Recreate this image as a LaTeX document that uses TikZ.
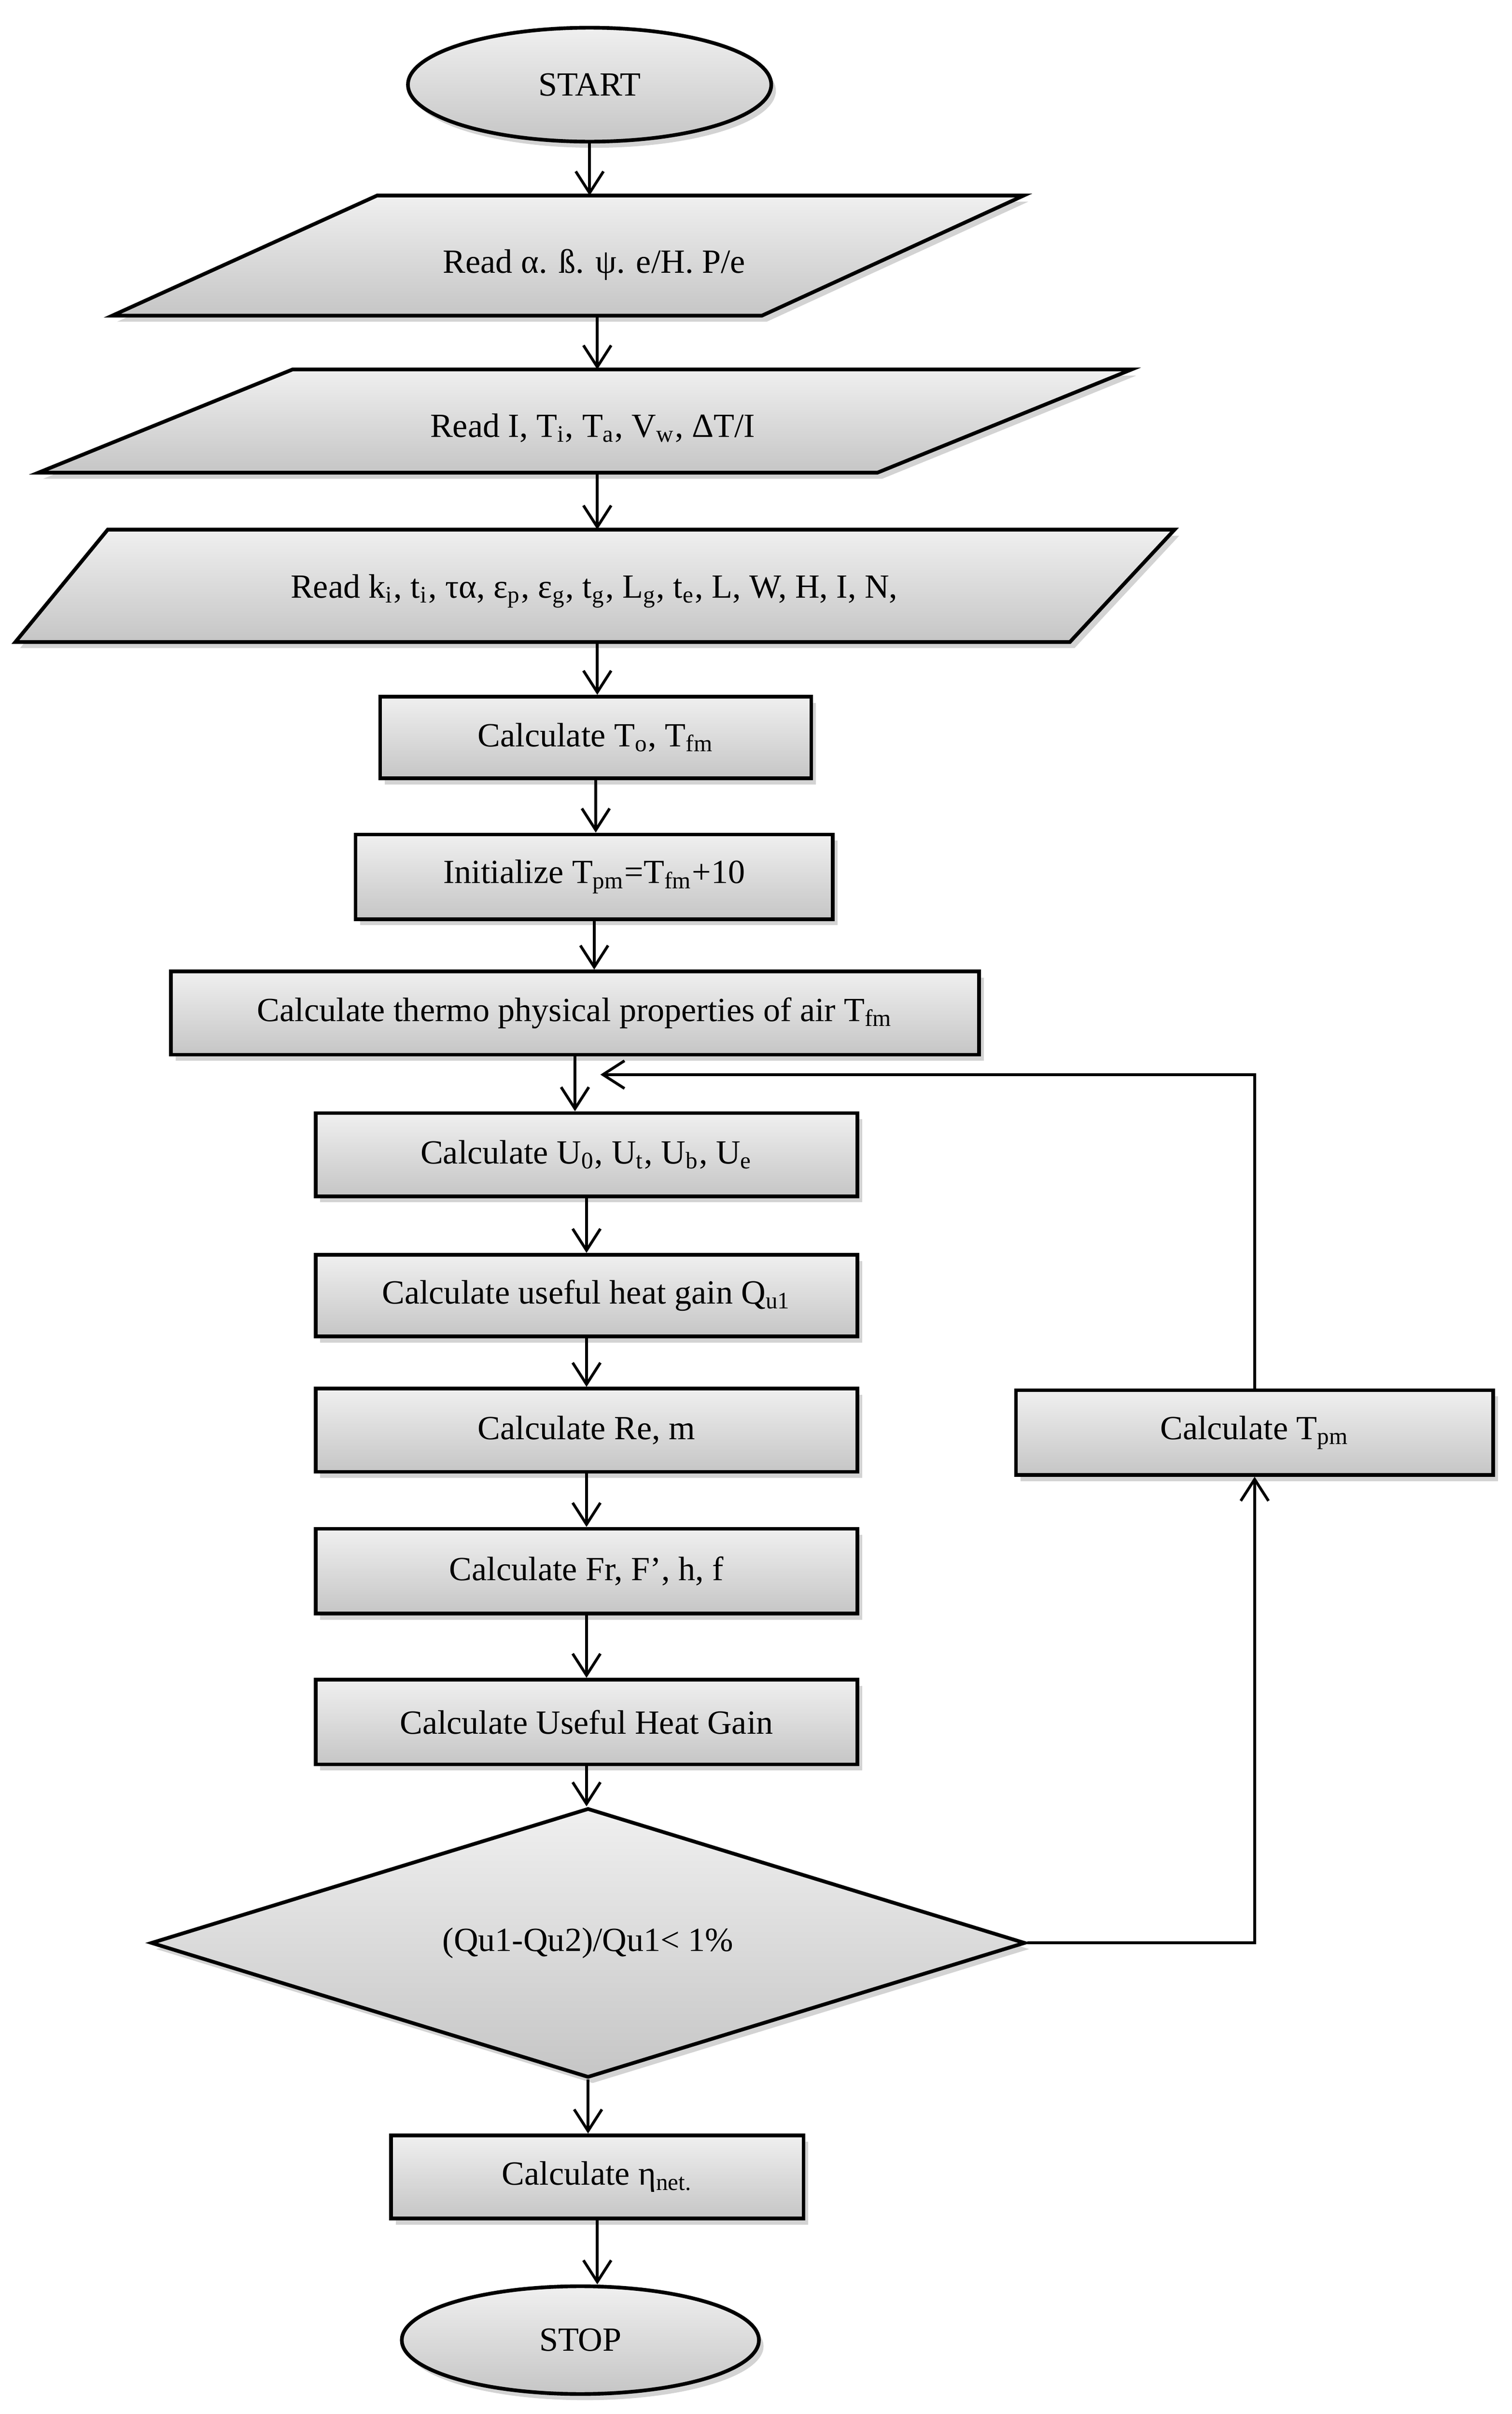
\documentclass[tikz,border=0pt]{standalone}
\usepackage{fontspec}
\setmainfont{Liberation Serif}
\usetikzlibrary{shapes.geometric,shadows,arrows.meta}
\newcommand{\sbs}[1]{\textsubscript{#1}}
\begin{document}
\begin{tikzpicture}[x=0.5pt,y=-0.5pt,
  font=\fontsize{11}{13}\selectfont,
  sh/.style={top color=gray!12,bottom color=gray!45,draw=black,line width=1.2pt,
    drop shadow={shadow xshift=1.5pt,shadow yshift=-2pt,opacity=0.35}},
  box/.style={sh,rectangle,inner sep=0pt},
  ell/.style={sh,ellipse,inner sep=0pt},
  arr/.style={-{Straight Barb[length=7pt,width=9pt]},line width=0.9pt}]
\useasboundingbox (0,0) rectangle (982,1568);
\node[ell,minimum width=118pt,minimum height=37pt] (start) at (383,55) {START};
% parallelograms
\path[sh] (245,127) -- (665,127) -- (495,205) -- (73,205) -- cycle;
\node (p1) at (386,172) {Read α. ß. ψ. e/H. P/e};
\path[sh] (190,240) -- (735,240) -- (570,307) -- (25,307) -- cycle;
\node (p2) at (385,278) {Read I, T\sbs{i}, T\sbs{a}, V\sbs{w}, ΔT/I};
\path[sh] (70,344) -- (763,344) -- (695,417) -- (10,417) -- cycle;
\node (p3) at (386,384) {Read k\sbs{i}, t\sbs{i}, τα, ε\sbs{p}, ε\sbs{g}, t\sbs{g}, L\sbs{g}, t\sbs{e}, L, W, H, I, N,};
\coordinate (p1t) at (388,127); \coordinate (p1b) at (388,205);
\coordinate (p2t) at (388,240); \coordinate (p2b) at (388,307);
\coordinate (p3t) at (388,344); \coordinate (p3b) at (388,417);
\node[box,minimum width=140pt,minimum height=26.5pt] (c1) at (387,479) {Calculate T\sbs{o}, T\sbs{fm}};
\node[box,minimum width=155pt,minimum height=27.5pt] (init) at (386,569.5) {Initialize T\sbs{pm}=T\sbs{fm}+10};
\node[box,minimum width=262.5pt,minimum height=27pt] (th) at (373.5,658) {Calculate thermo physical properties of air T\sbs{fm}};
\node[box,minimum width=176pt,minimum height=27pt] (u) at (381,750) {Calculate U\sbs{0}, U\sbs{t}, U\sbs{b}, U\sbs{e}};
\node[box,minimum width=176pt,minimum height=26.5pt] (q) at (381,841.5) {Calculate useful heat gain Q\sbs{u1}};
\node[box,minimum width=176pt,minimum height=27pt] (re) at (381,929) {Calculate Re, m};
\node[box,minimum width=176pt,minimum height=27.5pt] (fr) at (381,1020.5) {Calculate Fr, F’, h, f};
\node[box,minimum width=176pt,minimum height=27.5pt] (uh) at (381,1118.5) {Calculate Useful Heat Gain};
\node[sh,diamond,aspect=3.2,inner sep=0pt,minimum width=284pt,minimum height=87.5pt] (dia) at (382,1262) {(Qu1-Qu2)/Qu1< 1\%};
\node[box,minimum width=134pt,minimum height=27pt] (eta) at (388,1414) {Calculate η\sbs{net.}};
\node[ell,minimum width=116pt,minimum height=35pt] (stop) at (377,1520) {STOP};
\node[box,minimum width=155pt,minimum height=27.5pt] (tpm) at (815,930.5) {Calculate T\sbs{pm}};
\coordinate (lp) at (390,698);
% arrows
\draw[arr] (start.south) -- (start.south |- p1t);
\draw[arr] (p1b) -- (p2t);
\draw[arr] (p2b) -- (p3t);
\draw[arr] (p3b) -- (p3b |- c1.north);
\foreach \a/\b in {c1/init,init/th,th/u,u/q,q/re,re/fr,fr/uh,uh/dia,dia/eta,eta/stop}
  \draw[arr] (\a.south) -- (\a.south |- \b.north);
\draw[arr] (dia.east) -- (dia.east -| tpm.south) -- (tpm.south);
\draw[arr] (tpm.north) |- (lp);
\end{tikzpicture}
\end{document}
